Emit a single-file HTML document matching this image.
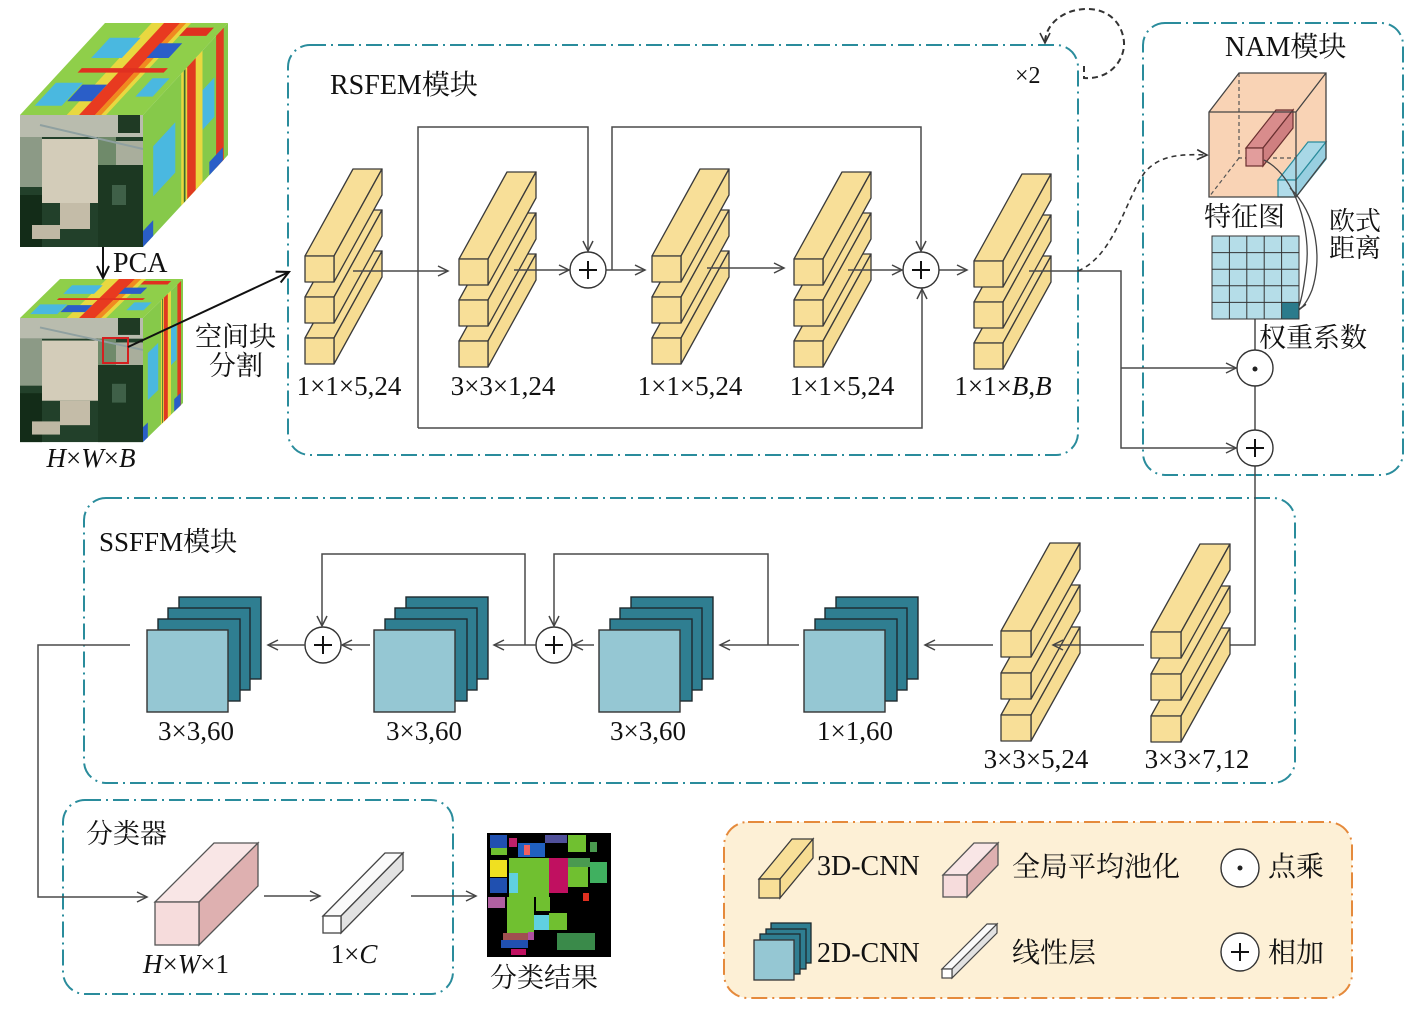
<!DOCTYPE html>
<html><head><meta charset="utf-8"><style>
html,body{margin:0;padding:0;background:#fff;}
svg{display:block;}
text{font-family:"Liberation Serif","Noto Serif CJK SC",serif;fill:#111;}
</style></head><body>
<svg width="1417" height="1013" viewBox="0 0 1417 1013" xmlns="http://www.w3.org/2000/svg">
<defs>
<marker id="ar" markerUnits="userSpaceOnUse" markerWidth="14" markerHeight="14" refX="11" refY="6" orient="auto"><path d="M1,1 L11,6 L1,11" fill="none" stroke="#444" stroke-width="1.5"/></marker>
<marker id="ark" markerUnits="userSpaceOnUse" markerWidth="16" markerHeight="16" refX="13" refY="7" orient="auto"><path d="M1,1 L13,7 L1,13" fill="none" stroke="#111" stroke-width="2"/></marker>
<marker id="ard" markerUnits="userSpaceOnUse" markerWidth="14" markerHeight="14" refX="11" refY="6" orient="auto"><path d="M1,1 L11,6 L1,11" fill="none" stroke="#333" stroke-width="1.6"/></marker>
<g id="ybar" stroke="#3a3a3a" stroke-width="1.3" stroke-linejoin="round"><polygon points="0,0 29,0 77,-87 48,-87" fill="#f8df98"/><polygon points="29,0 77,-87 77,-61 29,26" fill="#f6dc92"/><rect width="29" height="26" fill="#f8df98"/></g>
<g id="yblk"><use href="#ybar" y="82"/><use href="#ybar" y="41"/><use href="#ybar"/></g>
<g id="ybar2" stroke="#3a3a3a" stroke-width="1.3" stroke-linejoin="round"><polygon points="0,0 30,0 79,-88 49,-88" fill="#f8df98"/><polygon points="30,0 79,-88 79,-62 30,26" fill="#f6dc92"/><rect width="30" height="26" fill="#f8df98"/></g>
<g id="yblk2"><use href="#ybar2" y="84"/><use href="#ybar2" y="42"/><use href="#ybar2"/></g>
<g id="dblk" stroke="#1e2a2e" stroke-width="1.4"><rect x="32" y="-33" width="82" height="82" fill="#2f7e91"/><rect x="21" y="-22" width="82" height="82" fill="#2f7e91"/><rect x="11" y="-11" width="82" height="82" fill="#2f7e91"/><rect x="0" y="0" width="81" height="82" fill="#95c7d3" stroke="#333"/></g>
<g id="photo">
<rect width="123" height="132" fill="#22402a"/>
<rect x="0" y="0" width="123" height="22" fill="#b9bcae"/>
<rect x="98" y="0" width="22" height="18" fill="#1f3a24"/>
<rect x="0" y="22" width="22" height="50" fill="#8c9a86"/>
<rect x="22" y="24" width="56" height="64" fill="#d3ccb9"/>
<rect x="40" y="88" width="30" height="26" fill="#c4bca8"/>
<rect x="78" y="22" width="18" height="28" fill="#6f8a6a"/>
<rect x="96" y="26" width="27" height="24" fill="#a9ae9c"/>
<rect x="78" y="50" width="45" height="82" fill="#1c3822"/>
<rect x="92" y="70" width="14" height="20" fill="#3f6048"/>
<rect x="0" y="80" width="22" height="52" fill="#132c18"/>
<rect x="12" y="110" width="28" height="14" fill="#bfb8a4"/>
<path d="M20,10 L123,34" stroke="#8fa0a0" stroke-width="2"/>
</g>
<g id="spTop">
<rect width="100" height="100" fill="#8fcf4a"/>
<rect x="38" y="0" width="32" height="100" fill="#e8d840"/>
<rect x="48" y="0" width="13" height="100" fill="#e83a20"/>
<rect x="61" y="0" width="5" height="100" fill="#f08a20"/>
<rect x="15" y="46" width="70" height="5" fill="#e03020"/>
<rect x="5" y="10" width="22" height="25" fill="#4ab8e0"/>
<rect x="28" y="15" width="20" height="18" fill="#2a5ec8"/>
<rect x="15" y="62" width="25" height="22" fill="#4ab8e0"/>
<rect x="60" y="62" width="18" height="16" fill="#2a5ec8"/>
<rect x="80" y="20" width="14" height="20" fill="#4ab8e0"/>
<rect x="70" y="86" width="22" height="9" fill="#e03020"/>
</g>
<g id="spSide">
<rect width="100" height="100" fill="#86c94a"/>
<rect x="45" y="0" width="25" height="100" fill="#e8d840"/>
<rect x="52" y="0" width="10" height="100" fill="#e03a20"/>
<rect x="86" y="0" width="9" height="100" fill="#e03a20"/>
<rect x="12" y="30" width="26" height="38" fill="#4ab8e0"/>
<rect x="70" y="40" width="14" height="30" fill="#4ab8e0"/>
<rect x="0" y="0" width="12" height="12" fill="#2a5ec8"/>
<rect x="78" y="0" width="16" height="10" fill="#2a5ec8"/>
<rect x="48" y="0" width="2" height="100" fill="#3a6a30"/>
</g>
</defs>

<!-- ===== Legend background ===== -->
<rect x="724" y="822" width="628" height="176" rx="24" fill="#fdf0d6" stroke="#e58a3c" stroke-width="2" stroke-dasharray="16 5 2 5"/>

<!-- ===== Module boxes ===== -->
<g fill="none" stroke="#2a8c9c" stroke-width="2" stroke-dasharray="16 5 2 5">
<rect x="288" y="45" width="790" height="410" rx="22"/>
<rect x="1143" y="23" width="260" height="452" rx="22"/>
<rect x="84" y="498" width="1211" height="285" rx="22"/>
<rect x="63" y="800" width="390" height="194" rx="22"/>
</g>

<!-- ===== Hyperspectral cubes ===== -->
<g transform="matrix(1.23,0,0.85,-0.92,20,115)"><use href="#spTop"/></g>
<g transform="matrix(0.85,-0.92,0,-1.32,143,247)"><use href="#spSide"/></g>
<g transform="translate(20,115)"><use href="#photo"/></g>
<g transform="matrix(1.23,0,0.40,-0.39,20,318)"><use href="#spTop"/></g>
<g transform="matrix(0.40,-0.39,0,-1.24,143,442)"><use href="#spSide"/></g>
<g transform="translate(20,318) scale(1,0.94)"><use href="#photo"/></g>
<rect x="103" y="338" width="25" height="25" fill="none" stroke="#d42020" stroke-width="2"/>
<path d="M103,247 V278" stroke="#111" stroke-width="2" fill="none" marker-end="url(#ark)"/>
<path d="M128,347 L289,272" stroke="#111" stroke-width="2" fill="none" marker-end="url(#ark)"/>
<text x="113" y="272" font-size="28">PCA</text>
<text x="195" y="346" font-size="27">空间块</text>
<text x="209" y="375" font-size="27">分割</text>
<text x="91" y="467" font-size="27" text-anchor="middle" font-style="italic">H<tspan font-style="normal">×</tspan>W<tspan font-style="normal">×</tspan>B</text>

<!-- ===== RSFEM ===== -->
<text x="330" y="94" font-size="28">RSFEM模块</text>
<text x="1015" y="83" font-size="24">×2</text>
<path d="M1084,66 V78 C1110,80 1125,60 1124,42 C1122,20 1105,8 1085,9 C1062,10 1045,25 1045,43" fill="none" stroke="#333" stroke-width="2" stroke-dasharray="6 4" marker-end="url(#ard)"/>

<g fill="none" stroke="#4a4a4a" stroke-width="1.5">
<path d="M418,428 V127 H588 V251" marker-end="url(#ar)"/>
<path d="M418,428 H922 V289" marker-end="url(#ar)"/>
<path d="M612,270 V127 H921 V251" marker-end="url(#ar)"/>
</g>

<use href="#yblk" x="305" y="256"/>
<use href="#yblk" x="459" y="259"/>
<use href="#yblk" x="652" y="256"/>
<use href="#yblk" x="794" y="259"/>
<use href="#yblk" x="974" y="261"/>

<g fill="none" stroke="#4a4a4a" stroke-width="1.5">
<path d="M353,271 H448" marker-end="url(#ar)"/>
<path d="M514,270 H569" marker-end="url(#ar)"/>
<path d="M606,270 H645" marker-end="url(#ar)"/>
<path d="M707,268 H784" marker-end="url(#ar)"/>
<path d="M848,270 H902" marker-end="url(#ar)"/>
<path d="M939,270 H967" marker-end="url(#ar)"/>
<path d="M1029,271 H1121 V448 H1236" marker-end="url(#ar)"/>
<path d="M1121,368 H1236" marker-end="url(#ar)"/>
<path d="M1255,319 V350"/>
<path d="M1255,386 V430"/>
<path d="M1255,466 V645 H1199" marker-end="url(#ar)"/>
</g>

<g fill="#fff" stroke="#333" stroke-width="1.4">
<circle cx="588" cy="270" r="18"/>
<circle cx="921" cy="270" r="18"/>
<circle cx="1255" cy="368" r="18"/>
<circle cx="1255" cy="448" r="18"/>
<circle cx="323" cy="645" r="18"/>
<circle cx="554" cy="645" r="18"/>
</g>
<g stroke="#111" stroke-width="2">
<path d="M579,270 H597 M588,261 V279"/>
<path d="M912,270 H930 M921,261 V279"/>
<path d="M1246,448 H1264 M1255,439 V457"/>
<path d="M314,645 H332 M323,636 V654"/>
<path d="M545,645 H563 M554,636 V654"/>
</g>
<circle cx="1255" cy="369" r="2.5" fill="#222"/>

<g font-size="27" text-anchor="middle">
<text x="349" y="395">1×1×5,24</text>
<text x="503" y="395">3×3×1,24</text>
<text x="690" y="395">1×1×5,24</text>
<text x="842" y="395">1×1×5,24</text>
<text x="1003" y="395">1×1×<tspan font-style="italic">B</tspan>,<tspan font-style="italic">B</tspan></text>
</g>

<!-- ===== NAM ===== -->
<text x="1225" y="56" font-size="28">NAM模块</text>
<path d="M1078,271 C1115,255 1125,200 1145,172 C1160,155 1180,154 1207,155" fill="none" stroke="#333" stroke-width="1.6" stroke-dasharray="5 4" marker-end="url(#ard)"/>
<polygon points="1209,112 1239,73 1326,73 1326,158 1296,197 1209,197" fill="#f9d3b5"/>
<g fill="none" stroke="#555" stroke-width="1.2" stroke-dasharray="4 3">
<path d="M1239,73 V158 H1326 M1239,158 L1209,197"/>
</g>
<g stroke="#6a3030" stroke-width="1.2">
<polygon points="1246,148 1276,110 1293,110 1263,148" fill="#d98c8c"/>
<polygon points="1263,148 1293,110 1293,128 1263,166" fill="#cf7f80"/>
<rect x="1246" y="148" width="17" height="18" fill="#e29d9c"/>
</g>
<g stroke="#2a8c9c" stroke-width="1.2">
<polygon points="1278,180 1308,142 1326,142 1296,180" fill="#a8d8e6"/>
<polygon points="1296,180 1326,142 1326,159 1296,197" fill="#98cfe0"/>
<rect x="1278" y="180" width="18" height="17" fill="#b0dcea"/>
</g>
<g fill="none" stroke="#444" stroke-width="1.3">
<path d="M1209,112 L1239,73 H1326 V158 L1296,197 H1209 Z M1209,112 H1296 V197 M1296,112 L1326,73"/>
</g>
<g fill="none" stroke="#444" stroke-width="1.3">
<path d="M1264,160 C1295,175 1312,230 1306,270 C1303,295 1300,305 1297,311" marker-end="url(#ard)"/>
<path d="M1290,188 C1318,215 1322,260 1312,290 C1308,300 1303,308 1297,311"/>
</g>
<text x="1204" y="226" font-size="27">特征图</text>
<text x="1329" y="230" font-size="26">欧式</text>
<text x="1329" y="257" font-size="26">距离</text>
<rect x="1212" y="236" width="87" height="83" fill="#b5dde8"/>
<rect x="1281.6" y="302.4" width="17.4" height="16.6" fill="#2b7b8c"/>
<g stroke="#333" stroke-width="1" fill="none">
<rect x="1212" y="236" width="87" height="83"/>
<path d="M1229.4,236 V319 M1246.8,236 V319 M1264.2,236 V319 M1281.6,236 V319 M1212,252.6 H1299 M1212,269.2 H1299 M1212,285.8 H1299 M1212,302.4 H1299"/>
</g>
<text x="1259" y="347" font-size="27">权重系数</text>

<!-- ===== SSFFM ===== -->
<text x="99" y="551" font-size="27">SSFFM模块</text>
<g fill="none" stroke="#4a4a4a" stroke-width="1.5">
<path d="M768,645 V554 H554 V626" marker-end="url(#ar)"/>
<path d="M525,645 V554 H322 V626" marker-end="url(#ar)"/>
</g>
<use href="#dblk" x="147" y="630"/>
<use href="#dblk" x="374" y="630"/>
<use href="#dblk" x="599" y="630"/>
<use href="#dblk" x="804" y="630"/>
<use href="#yblk2" x="1001" y="631"/>
<use href="#yblk2" x="1151" y="632"/>
<g fill="none" stroke="#4a4a4a" stroke-width="1.5">
<path d="M1144,645 H1053" marker-end="url(#ar)"/>
<path d="M993,645 H925" marker-end="url(#ar)"/>
<path d="M799,645 H720" marker-end="url(#ar)"/>
<path d="M594,645 H573" marker-end="url(#ar)"/>
<path d="M536,645 H494" marker-end="url(#ar)"/>
<path d="M370,645 H342" marker-end="url(#ar)"/>
<path d="M305,645 H268" marker-end="url(#ar)"/>
<path d="M130,645 H38 V897 H147" marker-end="url(#ar)"/>
</g>
<g font-size="27" text-anchor="middle">
<text x="196" y="740">3×3,60</text>
<text x="424" y="740">3×3,60</text>
<text x="648" y="740">3×3,60</text>
<text x="855" y="740">1×1,60</text>
<text x="1036" y="768">3×3×5,24</text>
<text x="1197" y="768">3×3×7,12</text>
</g>

<!-- ===== Classifier ===== -->
<text x="86" y="843" font-size="27">分类器</text>
<g stroke="#555" stroke-width="1.3">
<polygon points="155,902 199,902 258,843 214,843" fill="#f9e6e6"/>
<polygon points="199,902 258,843 258,886 199,945" fill="#deb0b0"/>
<rect x="155" y="902" width="44" height="43" fill="#f6dcdc"/>
</g>
<g stroke="#444" stroke-width="1.3">
<polygon points="323,916 341,916 403,853 385,853" fill="#fafafa"/>
<polygon points="341,916 403,853 403,870 341,933" fill="#e2e2e2"/>
<rect x="323" y="916" width="18" height="17" fill="#fff"/>
</g>
<g fill="none" stroke="#4a4a4a" stroke-width="1.5">
<path d="M264,896 H320" marker-end="url(#ar)"/>
<path d="M411,896 H476" marker-end="url(#ar)"/>
</g>
<text x="186" y="973" font-size="27" text-anchor="middle" font-style="italic">H<tspan font-style="normal">×</tspan>W<tspan font-style="normal">×1</tspan></text>
<text x="354" y="963" font-size="27" text-anchor="middle">1×<tspan font-style="italic">C</tspan></text>

<!-- result map -->
<rect x="487" y="833" width="124" height="124" fill="#000"/>
<g>
<rect x="490" y="835" width="17" height="13" fill="#2050b0"/>
<rect x="509" y="838" width="8" height="9" fill="#c0206a"/>
<rect x="518" y="843" width="27" height="14" fill="#2060c0"/>
<rect x="545" y="835" width="22" height="8" fill="#50509a"/>
<rect x="568" y="835" width="18" height="17" fill="#70c030"/>
<rect x="590" y="842" width="7" height="10" fill="#4a9a50"/>
<rect x="491" y="848" width="16" height="7" fill="#70c030"/>
<rect x="524" y="845" width="6" height="10" fill="#f06060"/>
<rect x="490" y="860" width="17" height="17" fill="#f0e020"/>
<rect x="490" y="878" width="17" height="15" fill="#2050b0"/>
<rect x="488" y="897" width="17" height="11" fill="#b060a0"/>
<polygon points="509,858 549,858 549,897 534,897 534,933 507,933 507,897 509,897" fill="#70c030"/>
<rect x="509" y="873" width="9" height="20" fill="#60d0e0"/>
<rect x="549" y="858" width="19" height="35" fill="#c01060"/>
<rect x="568" y="858" width="22" height="9" fill="#4a9a50"/>
<rect x="568" y="867" width="20" height="20" fill="#70c030"/>
<rect x="590" y="862" width="17" height="21" fill="#40b060"/>
<rect x="534" y="915" width="15" height="15" fill="#60d0e0"/>
<rect x="549" y="913" width="18" height="17" fill="#70c030"/>
<rect x="536" y="897" width="14" height="14" fill="#70c030"/>
<rect x="503" y="933" width="25" height="7" fill="#a05050"/>
<rect x="501" y="940" width="27" height="8" fill="#2050b0"/>
<rect x="528" y="932" width="6" height="8" fill="#b050a0"/>
<rect x="557" y="933" width="38" height="17" fill="#3a8a4a"/>
<rect x="511" y="949" width="15" height="6" fill="#c01060"/>
<rect x="583" y="893" width="6" height="8" fill="#e03020"/>
</g>
<text x="490" y="987" font-size="27">分类结果</text>

<!-- ===== Legend ===== -->
<g stroke="#3a3a3a" stroke-width="1.3">
<polygon points="759,879 780,879 813,839 792,839" fill="#f8df98"/>
<polygon points="780,879 813,839 813,858 780,898" fill="#f6dc92"/>
<rect x="759" y="879" width="21" height="19" fill="#f8df98"/>
</g>
<g stroke="#555" stroke-width="1.3">
<polygon points="943,875 967,875 998,843 974,843" fill="#f9e6e6"/>
<polygon points="967,875 998,843 998,865 967,897" fill="#deb0b0"/>
<rect x="943" y="875" width="24" height="22" fill="#f6dcdc"/>
</g>
<g stroke="#1e2a2e" stroke-width="1.3">
<rect x="771" y="923" width="40" height="40" fill="#2f7e91"/>
<rect x="766" y="929" width="40" height="40" fill="#2f7e91"/>
<rect x="760" y="934" width="40" height="40" fill="#2f7e91"/>
<rect x="754" y="940" width="40" height="40" fill="#95c7d3" stroke="#333"/>
</g>
<g stroke="#444" stroke-width="1.2">
<polygon points="942,969 952,969 997,924 987,924" fill="#fafafa"/>
<polygon points="952,969 997,924 997,933 952,978" fill="#e2e2e2"/>
<rect x="942" y="969" width="10" height="9" fill="#fff"/>
</g>
<g fill="#fff" stroke="#333" stroke-width="1.4">
<circle cx="1240" cy="868" r="19"/>
<circle cx="1240" cy="952" r="19"/>
</g>
<circle cx="1240" cy="868" r="2.5" fill="#222"/>
<path d="M1231,952 H1249 M1240,943 V961" stroke="#111" stroke-width="2"/>
<g font-size="28">
<text x="817" y="875">3D-CNN</text>
<text x="817" y="962">2D-CNN</text>
<text x="1012" y="876">全局平均池化</text>
<text x="1012" y="962">线性层</text>
<text x="1268" y="876">点乘</text>
<text x="1268" y="962">相加</text>
</g>
</svg>
</body></html>
